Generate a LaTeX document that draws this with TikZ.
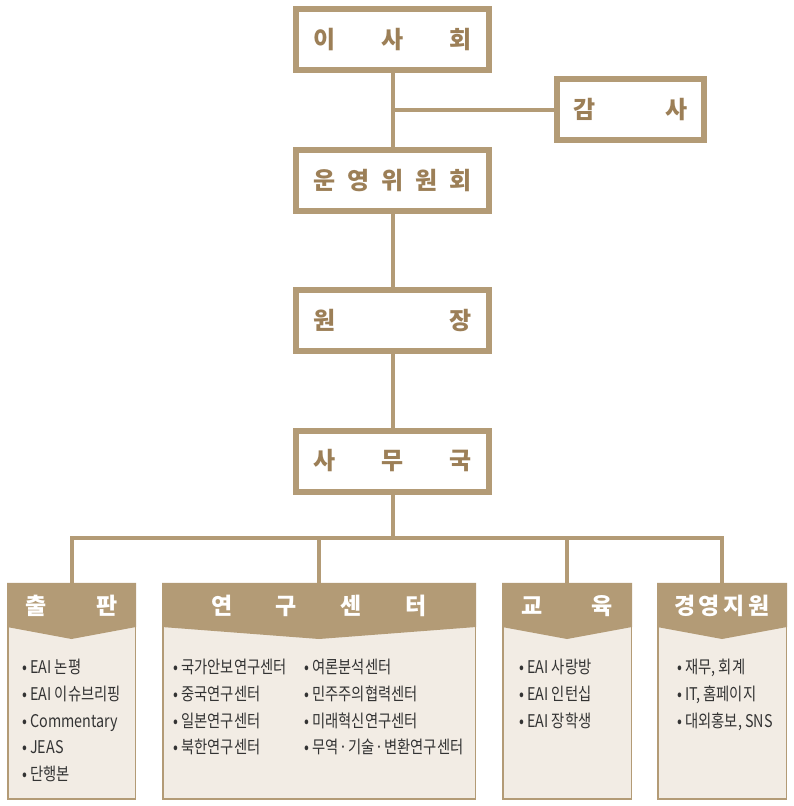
\documentclass[tikz,border=0pt]{standalone}
\usepackage{fontspec}
\setmainfont{Noto Sans CJK KR}
\newfontfamily\listfont[FakeStretch=0.82]{Noto Sans CJK KR}
\usetikzlibrary{calc}
\definecolor{tan}{HTML}{B39B76}
\definecolor{tantext}{HTML}{9C7F57}
\definecolor{paper}{HTML}{F2ECE4}
\definecolor{ink}{HTML}{333333}

\begin{document}
\begin{tikzpicture}[x=1pt,y=-1pt,
 office/.style={draw=tan,line width=6pt,fill=white,minimum width=193pt,
   minimum height=61pt,inner sep=0pt,text=tantext,
   font=\fontsize{24}{28}\selectfont\bfseries},
 unit/.style={draw=tan,line width=1.5pt,fill=paper,inner sep=0pt,
   minimum height=215.5pt},
 title/.style={text=white,inner sep=0pt,font=\fontsize{23}{27}\selectfont\bfseries},
 items/.style={anchor=north west,align=left,inner sep=0pt,text=ink,
   font=\listfont\fontsize{17.5}{26.75}\selectfont},
 link/.style={draw=tan,line width=4pt}]
\path[use as bounding box] (0,0) rectangle (793,806);
% Upper chain of offices, letters spread across each box.
\node[office] (board) at (392.5,39.5) {\hbox to 158pt{이\hfill 사\hfill 회}};
\node[office,minimum width=147pt] (audit) at (630.5,109.5)
  {\hbox to 115pt{감\hfill 사}};
\node[office] (steering) at (392.5,180.5)
  {\hbox to 158pt{운\hfill 영\hfill 위\hfill 원\hfill 회}};
\node[office] (president) at (392.5,320.5) {\hbox to 158pt{원\hfill 장}};
\node[office] (secretariat) at (392.5,461) {\hbox to 158pt{사\hfill 무\hfill 국}};
\draw[link] (board) -- (steering);
\draw[link] (audit.west) -- (audit.west -| board.south);
\draw[link] (steering) -- (president);
\draw[link] (president) -- (secretariat);
% Four departments hang from one bus.
\node[unit,minimum width=127.5pt,anchor=north] (pub) at (71.5,582.75) {};
\node[unit,minimum width=312.5pt,anchor=north] (research) at (319,582.75) {};
\node[unit,minimum width=128.5pt,anchor=north] (edu) at (567,582.75) {};
\node[unit,minimum width=128.5pt,anchor=north] (mgmt) at (722,582.75) {};
\foreach \u in {pub,research,edu,mgmt}
  \fill[tan] (\u.north west) -- (\u.north east) -- ($(\u.north east)+(0,44.25)$)
    -- ($(\u.north)+(0,56.25)$) -- ($(\u.north west)+(0,44.25)$) -- cycle;
\path (secretariat.south) ++(0,43) coordinate (bus);
\draw[link] (secretariat) -- (bus);
\draw[link] (pub.north) |- (bus) -| (mgmt.north);
\draw[link] (research.north) -- (research.north |- bus);
\draw[link] (edu.north) -- (edu.north |- bus);
\node[title] (pubTitle) at (71.5,606) {\hbox to 92pt{출\hfill 판}};
\node[title] (researchTitle) at (319,606) {\hbox to 216pt{연\hfill 구\hfill 센\hfill 터}};
\node[title] (eduTitle) at (567,606) {\hbox to 92pt{교\hfill 육}};
\node[title] (mgmtTitle) at (722,606) {\hbox to 96pt{경\hfill 영\hfill 지\hfill 원}};
\node[items] (pubList) at (22,659)
  {• EAI 논평\\• EAI 이슈브리핑\\• Commentary\\• JEAS\\• 단행본};
\node[items] (researchListA) at (173,659)
  {• 국가안보연구센터\\• 중국연구센터\\• 일본연구센터\\• 북한연구센터};
\node[items] (researchListB) at (304,659)
  {• 여론분석센터\\• 민주주의협력센터\\• 미래혁신연구센터\\%
   • 무역\kern.8pt·\kern.8pt기술\kern.8pt·\kern.8pt변환연구센터};
\node[items] (eduList) at (519,659)
  {• EAI 사랑방\\• EAI 인턴십\\• EAI 장학생};
\node[items] (mgmtList) at (677,659)
  {• 재무, 회계\\• IT, 홈페이지\\• 대외홍보, SNS};
\end{tikzpicture}
\end{document}
